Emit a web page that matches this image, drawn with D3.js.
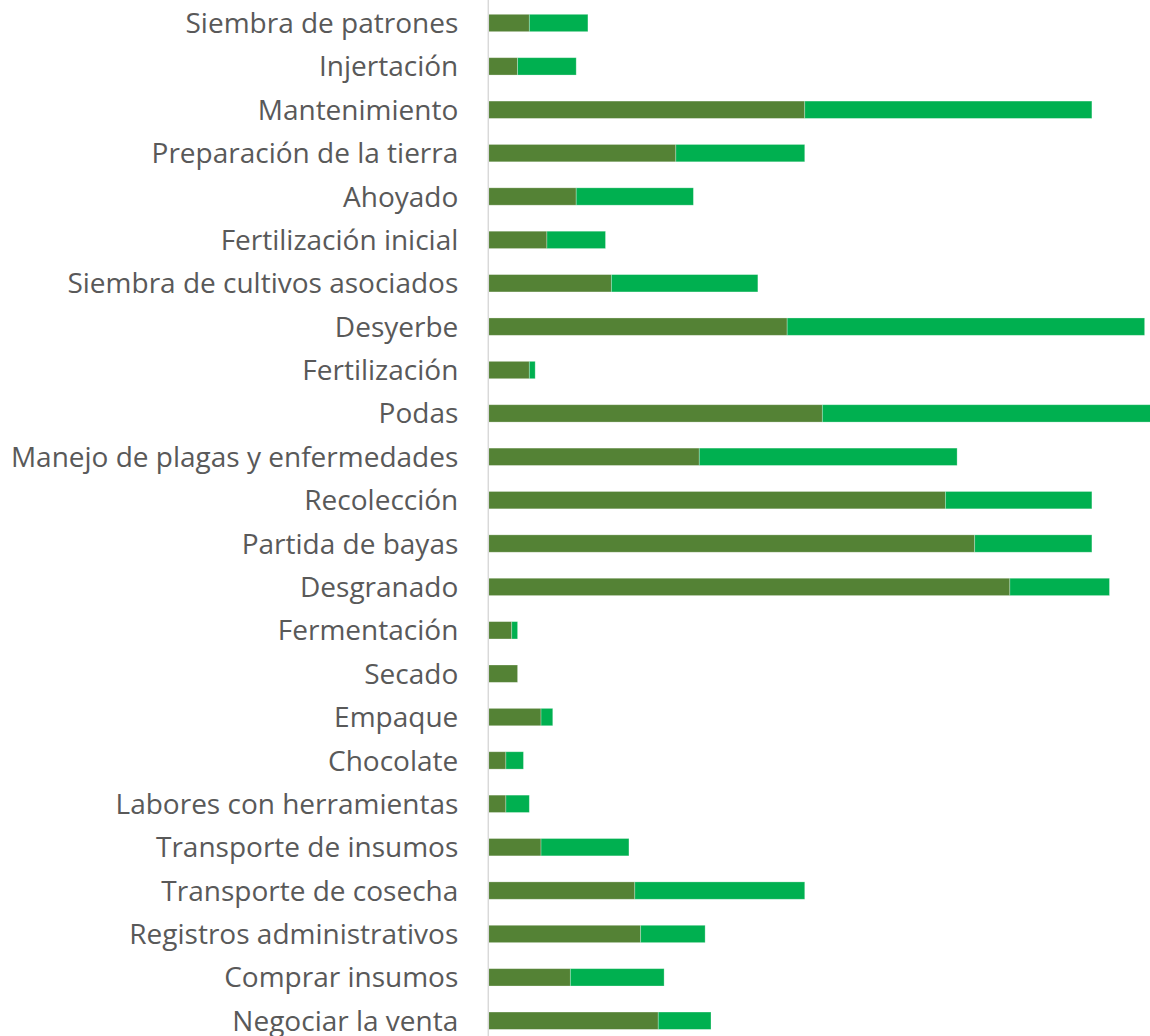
<!DOCTYPE html>
<html>
<head>
<meta charset="utf-8">
<script src="https://cdn.jsdelivr.net/npm/d3@7"></script>
<style>
  body { margin: 0; background: #fff; }
  svg { display: block; }
</style>
</head>
<body>
<svg id="chart" width="1150" height="1036"></svg>
<script>
// Activities (top to bottom)
const categories = [
  'Siembra de patrones', 'Injertación', 'Mantenimiento', 'Preparación de la tierra',
  'Ahoyado', 'Fertilización inicial', 'Siembra de cultivos asociados', 'Desyerbe',
  'Fertilización', 'Podas', 'Manejo de plagas y enfermedades', 'Recolección',
  'Partida de bayas', 'Desgranado', 'Fermentación', 'Secado', 'Empaque', 'Chocolate',
  'Labores con herramientas', 'Transporte de insumos', 'Transporte de cosecha',
  'Registros administrativos', 'Comprar insumos', 'Negociar la venta'
]

// First series (dark green)
const serieA = [7, 5, 54, 32, 15, 10, 21, 51, 7, 57, 36, 78, 83, 89, 4, 5, 9, 3, 3, 9, 25, 26, 14, 29]
// Second series (bright green), stacked after the first
const serieB = [10, 10, 49, 22, 20, 10, 25, 61, 1, 56, 44, 25, 20, 17, 1, 0, 2, 3, 4, 15, 29, 11, 16, 9]

const xMax = 113

let svg = d3.select('#chart')

let rows = categories.map((c, i) => ({ cat: c, a: serieA[i], b: serieB[i] }))
let stack = d3.stack().keys(['a', 'b'])(rows)

let x = d3.scaleLinear()
    .domain([0, xMax])
    .range([488.3, 1150.5])

let y = d3.scaleBand()
    .domain(categories)
    .range([1.3, 1042.4])
    .paddingInner(0.6)
    .paddingOuter(0.3)

let colors = { a: '#548235', b: '#00b050' }

// Bars
svg.append('g')
  .selectAll('g')
  .data(stack)
  .join('g')
    .attr('fill', d => colors[d.key])
  .selectAll('rect')
  .data(d => d)
  .join('rect')
    .attr('x', d => x(d[0]))
    .attr('y', d => y(d.data.cat))
    .attr('width', d => x(d[1]) - x(d[0]))
    .attr('height', y.bandwidth())
    .attr('stroke', 'rgba(255,255,255,0.35)')
    .attr('stroke-width', 0.8)

// Category axis
let axis = d3.axisLeft(y).tickSize(0).tickPadding(30)

let gAxis = svg.append('g')
    .attr('transform', 'translate(' + x(0) + ',0)')
    .call(axis)

gAxis.select('.domain')
  .attr('d', 'M0,0V1036')
  .attr('stroke', '#d9d9d9')
  .attr('stroke-width', 1.5)

gAxis.selectAll('text')
  .attr('fill', '#595959')
  .attr('dy', '0.36em')
  .style('font-family', '"Open Sans", sans-serif')
  .style('font-size', '28px')
</script>
</body>
</html>
